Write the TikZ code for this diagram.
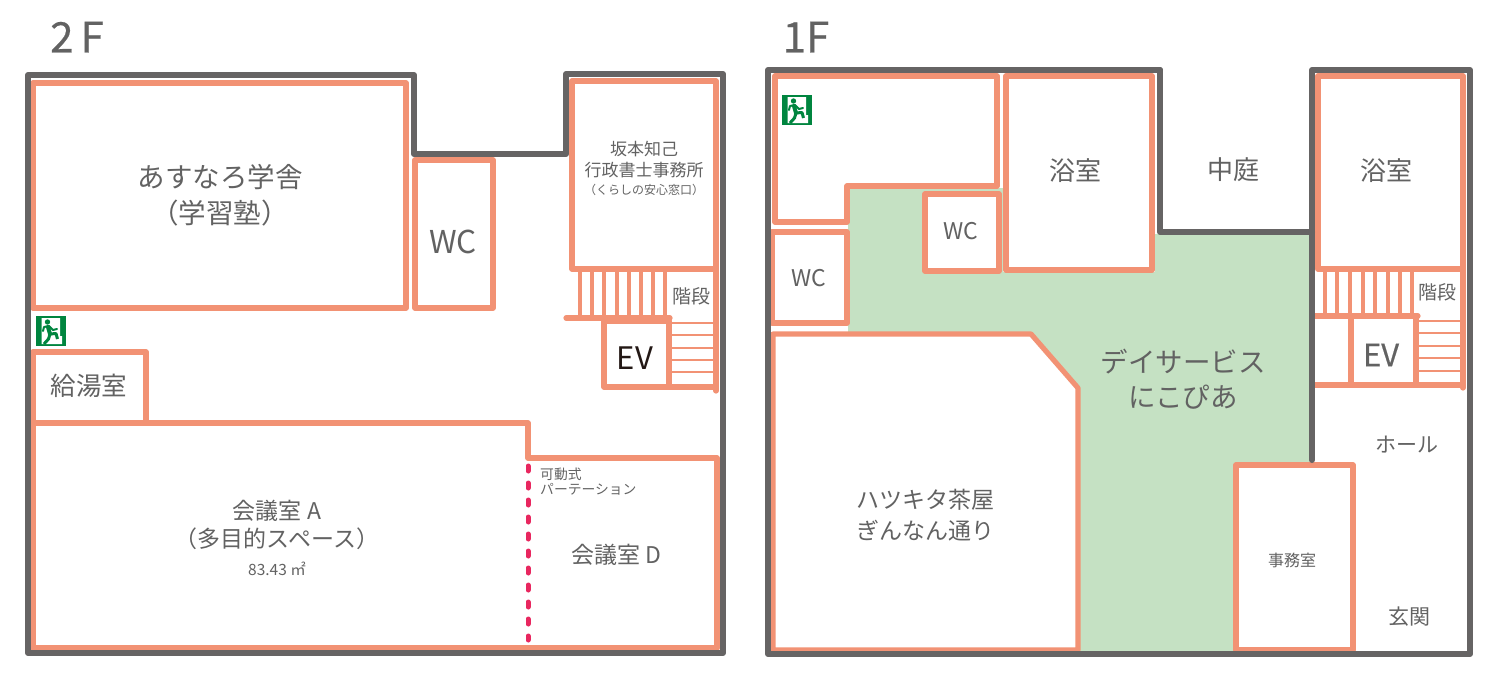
\documentclass[tikz,border=0pt]{standalone}
\usepackage{fontspec}
\setmainfont{Noto Sans CJK JP}
\newfontfamily\heavyfont[FakeBold=0.5]{Noto Sans CJK JP}
\definecolor{wallgray}{HTML}{666464}
\definecolor{roomsalmon}{HTML}{F29274}
\definecolor{daygreen}{HTML}{C5E1C3}
\definecolor{exitgreen}{HTML}{00853F}
\definecolor{partred}{HTML}{E8275F}
\definecolor{textgray}{HTML}{626262}
\definecolor{evblack}{HTML}{231815}
\tikzset{
    wallline/.style={draw=wallgray,line width=6pt,line join=round,line cap=round},
    roomline/.style={draw=roomsalmon,line width=5.2pt,line join=round,line cap=round},
    stairv/.style={draw=roomsalmon,line width=3.3pt},
    stairh/.style={draw=roomsalmon,line width=2.8pt},
    partline/.style={draw=partred,line width=5pt,line cap=round,dash pattern=on 5pt off 12pt},
    roomlabel/.style={text=textgray,align=center,inner sep=0pt,font=\fontsize{#1}{#1}\selectfont},
    roomlabel/.default=26
}
\newcommand{\exitsign}[2]{
    \begin{scope}[shift={(#1,#2)}]
	\fill[exitgreen] (0,0) rectangle (30,30);
	\fill[white] (5.5,2) -- (24,2) -- (24,20) -- (26,20) -- (26,28) -- (5.5,28) -- cycle;
	\fill[exitgreen] (11.5,6) circle (2.7);
	\draw[exitgreen,line width=4pt,line cap=round] (12,11) -- (14,18);
	\draw[exitgreen,line width=3pt,line join=round] (14,18) -- (12.5,23) -- (8,28);
	\draw[exitgreen,line width=3pt,line join=round] (14,18) -- (20,17.5) -- (21.5,23);
	\draw[exitgreen,line width=2pt,line cap=round,line join=round] (7,15) -- (8,11) -- (13,10) -- (17,14) -- (21,13);
    \end{scope}
}

\begin{document}
\begin{tikzpicture}[x=1pt,y=-1pt]
    \useasboundingbox (0,0) rectangle (1500,675);

    % Floor titles
    \node[roomlabel=42] (title2) at (77,37) {\heavyfont 2\,F};
    \node[roomlabel=42] (title1) at (806,37) {\heavyfont 1F};

    % 2F rooms
    \draw[roomline] (33,83) rectangle (406,308);
    \draw[roomline] (415,160) rectangle (493,308);
    \draw[roomline] (572,81) rectangle (716,269);
    \draw[roomline] (33,352) rectangle (146,423);
    \draw[roomline] (33,423) -- (528,423) -- (528,458) -- (717,458) -- (717,648) -- (33,648) -- cycle;
    \draw[partline] (528,466) -- (528,640);

    % 2F stairs and lift
    \foreach \x in {580,592,604,617,629,641,653,665} {
	\draw[stairv] (\x,269) -- (\x,318);
    }
    \foreach \y in {323,335,348,360,372} {
	\draw[stairh] (669,\y) -- (716,\y);
    }
    \draw[roomline] (716,269) -- (716,391);
    \draw[roomline] (566,318) -- (670,318);
    \draw[roomline] (604,321) -- (669,321) -- (669,387) -- (604,387) -- cycle;
    \draw[roomline] (669,387) -- (716,387);

    % 2F walls
    \draw[wallline] (414,154) -- (414,75) -- (28,75) -- (28,653) -- (723,653) -- (723,74) -- (566,74) -- (566,154) -- cycle;

    % 2F labels
    \node[roomlabel=27.5] (asunaro) at (220,195) {あすなろ学舎\\[8.5pt]（学習塾）};
    \node[roomlabel=31.5] (wcA) at (453,242) {WC};
    \node[roomlabel=17] (office) at (644,168.5) {坂本知己\\[4.5pt]行政書士事務所\\[1pt]{\fontsize{12}{12}\selectfont （くらしの安心窓口）}};
    \node[roomlabel=19] (stairA) at (691,296) {階段};
    \node[roomlabel=31,text=evblack] (evA) at (635,358) {EV};
    \node[roomlabel=25.5] (kyuto) at (89,386) {給湯室};
    \node[roomlabel=23] (kaigiA) at (277,538) {会議室 A\\[5pt]（多目的スペース）\\[5pt]{\fontsize{15.5}{15.5}\selectfont 83.43 ㎡}};
    \node[roomlabel=13.8,align=left,anchor=north west] (partition) at (540,468) {可動式\\[1pt]パーテーション};
    \node[roomlabel=23] (kaigiD) at (616,555) {会議室 D};
    \exitsign{36}{316}

    % 1F day service floor
    \fill[daygreen] (848,188) -- (1003,188) -- (1003,272) -- (1155,272) -- (1155,234) -- (1312,234) -- (1312,462)
	-- (1236,462) -- (1236,652) -- (1080,652) -- (1080,390) -- (1032,335) -- (848,335) -- cycle;

    % 1F rooms
    \draw[roomline] (775,76) -- (997,76) -- (997,186) -- (847,186) -- (847,222) -- (775,222) -- cycle;
    \draw[roomline] (772,232) rectangle (847,323);
    \draw[roomline,fill=white] (925,194) rectangle (999,271);
    \draw[roomline,fill=white] (1006,76) rectangle (1152,270);
    \draw[roomline,fill=white] (773,334) -- (1031,334) -- (1078,388) -- (1078,650) -- (773,650) -- cycle;
    \draw[roomline,fill=white] (1236,465) rectangle (1353,650);
    \draw[roomline] (1318,76) rectangle (1463,269);

    % 1F stairs and lift
    \foreach \x in {1325,1337,1350,1363,1375,1388,1400,1412} {
	\draw[stairv] (\x,269) -- (\x,316);
    }
    \foreach \y in {321,333,346,358,371} {
	\draw[stairh] (1416,\y) -- (1463,\y);
    }
    \draw[roomline] (1463,269) -- (1463,388);
    \draw[roomline] (1313,316) -- (1418,316);
    \draw[roomline] (1351,318) -- (1351,385);
    \draw[roomline] (1416,318) -- (1416,385);
    \draw[roomline] (1312,385) -- (1463,385);

    % 1F walls
    \draw[wallline] (1160,70) -- (768,70) -- (768,654) -- (1470,654) -- (1470,70) -- (1312,70) -- (1312,460);
    \draw[wallline] (1160,70) -- (1160,232) -- (1312,232);

    % 1F labels
    \node[roomlabel=23] (wcB) at (809,278) {WC};
    \node[roomlabel=23] (wcC) at (961,231) {WC};
    \node[roomlabel] (bathA) at (1075,170.5) {浴室};
    \node[roomlabel] (court) at (1233,170) {中庭};
    \node[roomlabel] (bathB) at (1386,170.5) {浴室};
    \node[roomlabel=19] (stairB) at (1437,292) {階段};
    \node[roomlabel=31] (evB) at (1381,355) {\heavyfont EV};
    \node[roomlabel=27.5] (dayservice) at (1183,379) {デイサービス\\[7.5pt]にこぴあ};
    \node[roomlabel=23] (hatsukita) at (925,515) {ハツキタ茶屋\\[8pt]ぎんなん通り};
    \node[roomlabel=21] (hall) at (1407,445) {ホール};
    \node[roomlabel=21] (genkan) at (1409,617) {玄関};
    \node[roomlabel=16] (jimu) at (1292,560) {事務室};
    \exitsign{782}{95}
\end{tikzpicture}
\end{document}
